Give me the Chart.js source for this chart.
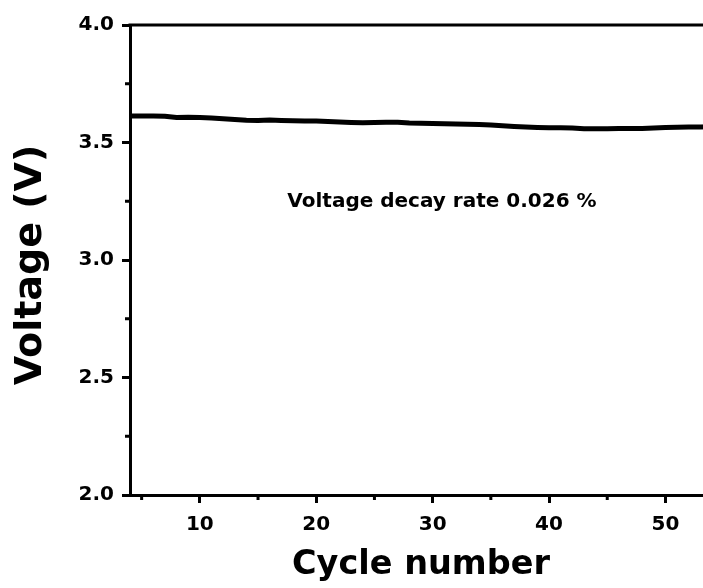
<!DOCTYPE html>
<html><head><meta charset="utf-8">
<script src="https://cdn.jsdelivr.net/npm/chart.js@4"></script>
<style>
html,body{margin:0;padding:0;background:#fff;overflow:hidden;width:703px;height:588px}
#wrap{width:720px;height:588px}
</style></head>
<body><div id="wrap"><canvas id="c" width="720" height="588"></canvas></div>
<script>
// ---- data ----
const cycles = [4,5,6,7,8,9,10,11,12,13,14,15,16,17,18,19,20,21,22,23,24,25,26,27,28,29,30,31,32,33,34,35,36,37,38,39,40,41,42,43,44,45,46,47,48,49,50,51,52,53,54];
const voltage = [3.613,3.613,3.613,3.612,3.606,3.607,3.606,3.604,3.601,3.598,3.595,3.594,3.596,3.594,3.593,3.592,3.591,3.589,3.587,3.585,3.584,3.585,3.586,3.586,3.583,3.582,3.581,3.580,3.579,3.578,3.577,3.574,3.571,3.568,3.566,3.564,3.563,3.563,3.562,3.559,3.558,3.559,3.560,3.560,3.560,3.562,3.564,3.565,3.566,3.566,3.567];
const xTicks = [10,20,30,40,50];
const xMinorTicks = [5,15,25,35,45];
const yTicks = [2.0,2.5,3.0,3.5,4.0];
const yMinorTicks = [2.25,2.75,3.25,3.75];
const xTitle = 'Cycle number';
const yTitle = 'Voltage (V)';
const annotationText = 'Voltage decay rate 0.026 %';
const annotationAt = [30.8, 3.226];

// ---- style ----
const FONT = "'DejaVu Sans', 'Liberation Sans', Arial, sans-serif";

const framePlugin = {
  id: 'frame',
  afterDraw(chart){
    const {ctx, chartArea:a, scales:{x, y}} = chart;
    ctx.save();
    ctx.strokeStyle = '#000';
    ctx.lineWidth = 3;
    ctx.beginPath();
    ctx.moveTo(a.left - 1.5, a.top); ctx.lineTo(a.right, a.top);
    ctx.moveTo(a.right, a.top); ctx.lineTo(a.right, a.bottom);
    ctx.stroke();
    // minor ticks
    ctx.beginPath();
    xMinorTicks.forEach(v => {
      const px = x.getPixelForValue(v);
      ctx.moveTo(px, a.bottom); ctx.lineTo(px, a.bottom + 5);
    });
    yMinorTicks.forEach(v => {
      const py = y.getPixelForValue(v);
      ctx.moveTo(a.left, py); ctx.lineTo(a.left - 5, py);
    });
    ctx.stroke();
    // annotation
    ctx.fillStyle = '#000';
    ctx.font = "bold 20px " + FONT;
    ctx.textAlign = 'center';
    ctx.textBaseline = 'alphabetic';
    ctx.fillText(annotationText, x.getPixelForValue(annotationAt[0]), y.getPixelForValue(annotationAt[1]));
    ctx.restore();
  },
  // draw the rotated y title slightly below the scale centre, as in the reference
  afterDatasetsDraw(chart){
    const {ctx, chartArea:a} = chart;
    ctx.save();
    ctx.fillStyle = '#000';
    ctx.font = "bold 38px " + FONT;
    ctx.textAlign = 'center';
    ctx.textBaseline = 'middle';
    ctx.translate(31, (a.top + a.bottom) / 2 + 5);
    ctx.rotate(-Math.PI / 2);
    ctx.fillText(yTitle, 0, 0);
    ctx.restore();
  }
};

new Chart(document.getElementById('c'), {
  type: 'line',
  data: {
    datasets: [{
      data: cycles.map((c, i) => ({x: c, y: voltage[i]})),
      borderColor: '#000',
      borderWidth: 5,
      pointRadius: 0,
      tension: 0,
      fill: false
    }]
  },
  options: {
    responsive: false,
    animation: false,
    devicePixelRatio: 1,
    layout: {padding: {top: 25, right: 8, left: 0, bottom: 0}},
    plugins: {legend: {display: false}, tooltip: {enabled: false}},
    scales: {
      x: {
        type: 'linear', min: 4, max: 54,
        afterBuildTicks: s => { s.ticks = xTicks.map(v => ({value: v})); },
        afterFit: s => { s.height = 93; },
        grid: {display: true, drawOnChartArea: false, drawTicks: true, tickLength: 8, tickWidth: 3, tickColor: '#000'},
        border: {display: true, color: '#000', width: 3},
        ticks: {color: '#000', padding: 10, maxRotation: 0, font: {family: FONT, size: 20, weight: 'bold'}, callback: v => String(v)},
        title: {display: true, text: xTitle, color: '#000', padding: {top: 0, bottom: 3}, font: {family: FONT, size: 33.5, weight: 'bold', lineHeight: 1.2}}
      },
      y: {
        type: 'linear', min: 2, max: 4,
        afterBuildTicks: s => { s.ticks = yTicks.map(v => ({value: v})); },
        afterFit: s => { s.width = 130; },
        grid: {display: true, drawOnChartArea: false, drawTicks: true, tickLength: 8, tickWidth: 3, tickColor: '#000'},
        border: {display: true, color: '#000', width: 3},
        ticks: {color: '#000', padding: 8, font: {family: FONT, size: 20, weight: 'bold'}, callback: v => Number(v).toFixed(1)},
        title: {display: false}
      }
    }
  },
  plugins: [framePlugin]
});
</script>
</body></html>
